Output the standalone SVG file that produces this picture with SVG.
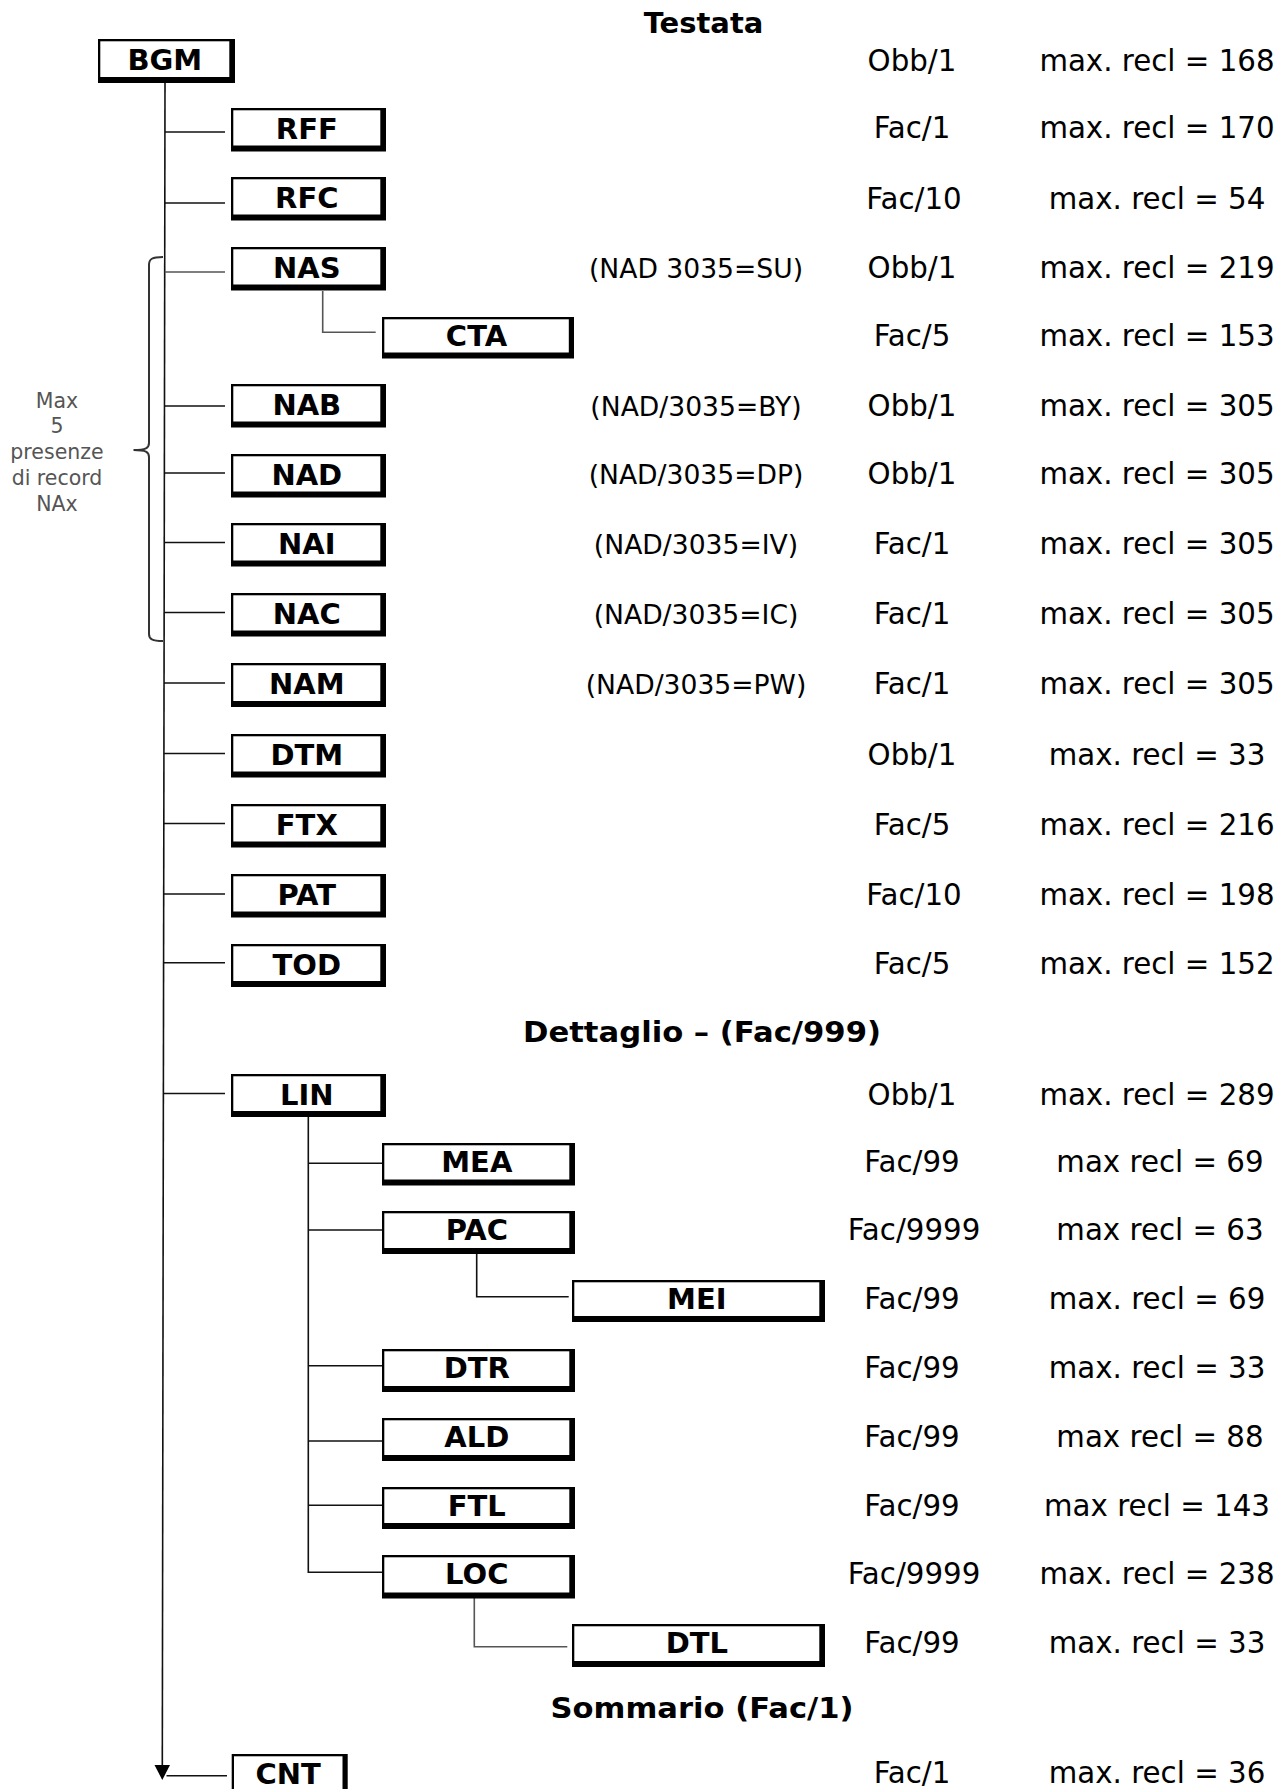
<svg xmlns="http://www.w3.org/2000/svg" width="1286" height="1789" viewBox="0 0 1286 1789">
<defs>
<style>
.bo{fill:#000}
.bi{fill:#fff}
.bl{font-family:"DejaVu Sans",Verdana,sans-serif;font-weight:bold;font-size:29px;fill:#000;text-anchor:middle}
.hd{font-family:"DejaVu Sans",Verdana,sans-serif;font-weight:bold;font-size:29px;fill:#000;text-anchor:middle}
.tx{font-family:"DejaVu Sans",Verdana,sans-serif;font-size:29.3px;fill:#000;text-anchor:middle}
.md{font-family:"DejaVu Sans",Verdana,sans-serif;font-size:26.6px;fill:#000;text-anchor:middle}
.nt{font-family:"DejaVu Sans",Verdana,sans-serif;font-size:20.5px;fill:#555;text-anchor:middle}
.ln{stroke:#111;stroke-width:1.6;fill:none}
.lg{stroke:#555;stroke-width:1.6;fill:none}
</style>
</defs>
<rect width="1286" height="1789" fill="#fff"/>

<g id="connectors">
<path class="ln" d="M165,83 L162.3,1766"/>
<path d="M154.5,1765 L170,1765 L162.3,1780 Z" fill="#000"/>
<path class="ln" d="M165,132 H225"/>
<path class="ln" d="M165,203 H225"/>
<path class="lg" d="M164.8,272 H225"/>
<path class="ln" d="M164.5,406 H225"/>
<path class="ln" d="M164.4,473 H225"/>
<path class="ln" d="M164.3,542.5 H225"/>
<path class="ln" d="M164.2,612.5 H225"/>
<path class="ln" d="M164,683 H225"/>
<path class="ln" d="M163.9,753.5 H225"/>
<path class="ln" d="M163.8,823.5 H225"/>
<path class="ln" d="M163.7,894 H225"/>
<path class="ln" d="M163.6,962.7 H225"/>
<path class="ln" d="M163.3,1093.5 H225"/>
<path class="ln" d="M166.5,1775.7 H227"/>
<path class="lg" d="M322.7,291 V332.3 H375.7"/>
<path class="ln" d="M308.3,1117 V1572.3 H382"/>
<path class="ln" d="M308.3,1163.3 H382"/>
<path class="ln" d="M308.3,1230 H382"/>
<path class="ln" d="M308.3,1365.7 H382"/>
<path class="ln" d="M308.3,1441 H382"/>
<path class="ln" d="M308.3,1505.3 H382"/>
<path class="ln" d="M476.7,1254 V1296.7 H568.7"/>
<path class="lg" d="M474.3,1598 V1646.7 H567.3"/>
<path d="M163,257 C152,257 149,259 149,265 V443 C149,448 146,450 133.5,450 C146,450 149,452 149,457 V634 C149,639 152,641 163,641" stroke="#333" stroke-width="2" fill="none"/>
</g>

<g id="note">
<text class="nt" x="57" y="407.7">Max</text>
<text class="nt" x="57" y="433.3">5</text>
<text class="nt" x="57" y="458.5">presenze</text>
<text class="nt" x="57" y="485">di record</text>
<text class="nt" x="57" y="511">NAx</text>
</g>

<g id="headers">
<text class="hd" x="703.5" y="33">Testata</text>
<text class="hd" x="702" y="1041.7" textLength="358" lengthAdjust="spacingAndGlyphs">Dettaglio – (Fac/999)</text>
<text class="hd" x="702" y="1718" textLength="303" lengthAdjust="spacingAndGlyphs">Sommario (Fac/1)</text>
</g>

<g id="node-BGM"><rect class="bo" x="98" y="39" width="137" height="44"/><rect class="bi" x="100.3" y="41.3" width="129" height="35.7"/><text class="bl" x="164.8" y="70">BGM</text>
<text class="tx" x="912" y="70.7">Obb/1</text><text class="tx" x="1157" y="70.7">max. recl = 168</text></g>

<g id="node-RFF"><rect class="bo" x="231" y="108" width="155" height="43.5"/><rect class="bi" x="233.3" y="110.3" width="147" height="35.2"/><text class="bl" x="306.8" y="139">RFF</text>
<text class="tx" x="912" y="138.3">Fac/1</text><text class="tx" x="1157" y="138.3">max. recl = 170</text></g>

<g id="node-RFC"><rect class="bo" x="231" y="177" width="155" height="43.5"/><rect class="bi" x="233.3" y="179.3" width="147" height="35.2"/><text class="bl" x="306.8" y="208">RFC</text>
<text class="tx" x="914" y="209">Fac/10</text><text class="tx" x="1157" y="209">max. recl = 54</text></g>

<g id="node-NAS"><rect class="bo" x="231" y="247" width="155" height="43.5"/><rect class="bi" x="233.3" y="249.3" width="147" height="35.2"/><text class="bl" x="306.8" y="278">NAS</text>
<text class="md" x="696" y="278">(NAD 3035=SU)</text><text class="tx" x="912" y="278">Obb/1</text><text class="tx" x="1157" y="278">max. recl = 219</text></g>

<g id="node-CTA"><rect class="bo" x="382" y="317" width="192" height="41.5"/><rect class="bi" x="384.3" y="319.3" width="184.5" height="33.2"/><text class="bl" x="476.5" y="346">CTA</text>
<text class="tx" x="912" y="345.7">Fac/5</text><text class="tx" x="1157" y="345.7">max. recl = 153</text></g>

<g id="node-NAB"><rect class="bo" x="231" y="384" width="155" height="43.5"/><rect class="bi" x="233.3" y="386.3" width="147" height="35.2"/><text class="bl" x="306.8" y="415">NAB</text>
<text class="md" x="696" y="416">(NAD/3035=BY)</text><text class="tx" x="912" y="416">Obb/1</text><text class="tx" x="1157" y="416">max. recl = 305</text></g>

<g id="node-NAD"><rect class="bo" x="231" y="454" width="155" height="43.5"/><rect class="bi" x="233.3" y="456.3" width="147" height="35.2"/><text class="bl" x="306.8" y="485">NAD</text>
<text class="md" x="696" y="484">(NAD/3035=DP)</text><text class="tx" x="912" y="484">Obb/1</text><text class="tx" x="1157" y="484">max. recl = 305</text></g>

<g id="node-NAI"><rect class="bo" x="231" y="523" width="155" height="43.5"/><rect class="bi" x="233.3" y="525.3" width="147" height="35.2"/><text class="bl" x="306.8" y="554">NAI</text>
<text class="md" x="696" y="554">(NAD/3035=IV)</text><text class="tx" x="912" y="554">Fac/1</text><text class="tx" x="1157" y="554">max. recl = 305</text></g>

<g id="node-NAC"><rect class="bo" x="231" y="593" width="155" height="43.5"/><rect class="bi" x="233.3" y="595.3" width="147" height="35.2"/><text class="bl" x="306.8" y="624">NAC</text>
<text class="md" x="696" y="624">(NAD/3035=IC)</text><text class="tx" x="912" y="624">Fac/1</text><text class="tx" x="1157" y="624">max. recl = 305</text></g>

<g id="node-NAM"><rect class="bo" x="231" y="663" width="155" height="44"/><rect class="bi" x="233.3" y="665.3" width="147" height="35.7"/><text class="bl" x="306.8" y="694">NAM</text>
<text class="md" x="696" y="694">(NAD/3035=PW)</text><text class="tx" x="912" y="694">Fac/1</text><text class="tx" x="1157" y="694">max. recl = 305</text></g>

<g id="node-DTM"><rect class="bo" x="231" y="734" width="155" height="43.5"/><rect class="bi" x="233.3" y="736.3" width="147" height="35.2"/><text class="bl" x="306.8" y="765">DTM</text>
<text class="tx" x="912" y="765">Obb/1</text><text class="tx" x="1157" y="765">max. recl = 33</text></g>

<g id="node-FTX"><rect class="bo" x="231" y="804" width="155" height="43.5"/><rect class="bi" x="233.3" y="806.3" width="147" height="35.2"/><text class="bl" x="306.8" y="835">FTX</text>
<text class="tx" x="912" y="835">Fac/5</text><text class="tx" x="1157" y="835">max. recl = 216</text></g>

<g id="node-PAT"><rect class="bo" x="231" y="874" width="155" height="43.5"/><rect class="bi" x="233.3" y="876.3" width="147" height="35.2"/><text class="bl" x="306.8" y="905">PAT</text>
<text class="tx" x="914" y="905">Fac/10</text><text class="tx" x="1157" y="905">max. recl = 198</text></g>

<g id="node-TOD"><rect class="bo" x="231" y="944" width="155" height="43"/><rect class="bi" x="233.3" y="946.3" width="147" height="34.7"/><text class="bl" x="306.8" y="975">TOD</text>
<text class="tx" x="912" y="974">Fac/5</text><text class="tx" x="1157" y="974">max. recl = 152</text></g>

<g id="node-LIN"><rect class="bo" x="231" y="1074" width="155" height="43"/><rect class="bi" x="233.3" y="1076.3" width="147" height="34.7"/><text class="bl" x="306.8" y="1105">LIN</text>
<text class="tx" x="912" y="1105">Obb/1</text><text class="tx" x="1157" y="1105">max. recl = 289</text></g>

<g id="node-MEA"><rect class="bo" x="382" y="1143" width="193" height="42.5"/><rect class="bi" x="384.3" y="1145.3" width="185" height="34.2"/><text class="bl" x="476.8" y="1172">MEA</text>
<text class="tx" x="912" y="1172">Fac/99</text><text class="tx" x="1160" y="1172">max recl = 69</text></g>

<g id="node-PAC"><rect class="bo" x="382" y="1211" width="193" height="43"/><rect class="bi" x="384.3" y="1213.3" width="185" height="34.7"/><text class="bl" x="476.8" y="1240">PAC</text>
<text class="tx" x="914" y="1240">Fac/9999</text><text class="tx" x="1160" y="1240">max recl = 63</text></g>

<g id="node-MEI"><rect class="bo" x="572" y="1280" width="253" height="42"/><rect class="bi" x="574.3" y="1282.3" width="245" height="33.7"/><text class="bl" x="696.8" y="1309">MEI</text>
<text class="tx" x="912" y="1309">Fac/99</text><text class="tx" x="1157" y="1309">max. recl = 69</text></g>

<g id="node-DTR"><rect class="bo" x="382" y="1349" width="193" height="43"/><rect class="bi" x="384.3" y="1351.3" width="185" height="34.7"/><text class="bl" x="476.8" y="1378">DTR</text>
<text class="tx" x="912" y="1378">Fac/99</text><text class="tx" x="1157" y="1378">max. recl = 33</text></g>

<g id="node-ALD"><rect class="bo" x="382" y="1418" width="193" height="43"/><rect class="bi" x="384.3" y="1420.3" width="185" height="34.7"/><text class="bl" x="476.8" y="1447">ALD</text>
<text class="tx" x="912" y="1447">Fac/99</text><text class="tx" x="1160" y="1447">max recl = 88</text></g>

<g id="node-FTL"><rect class="bo" x="382" y="1487" width="193" height="42"/><rect class="bi" x="384.3" y="1489.3" width="185" height="33.7"/><text class="bl" x="476.8" y="1516">FTL</text>
<text class="tx" x="912" y="1516">Fac/99</text><text class="tx" x="1157" y="1516">max recl = 143</text></g>

<g id="node-LOC"><rect class="bo" x="382" y="1555" width="193" height="43.5"/><rect class="bi" x="384.3" y="1557.3" width="185" height="35.2"/><text class="bl" x="476.8" y="1584">LOC</text>
<text class="tx" x="914" y="1584">Fac/9999</text><text class="tx" x="1157" y="1584">max. recl = 238</text></g>

<g id="node-DTL"><rect class="bo" x="572" y="1624" width="253" height="43"/><rect class="bi" x="574.3" y="1626.3" width="245" height="34.7"/><text class="bl" x="696.8" y="1653">DTL</text>
<text class="tx" x="912" y="1653">Fac/99</text><text class="tx" x="1157" y="1653">max. recl = 33</text></g>

<g id="node-CNT"><rect class="bo" x="231.7" y="1754" width="116" height="44"/><rect class="bi" x="234" y="1756.3" width="108.5" height="40"/><text class="bl" x="288.2" y="1783.5">CNT</text>
<text class="tx" x="912" y="1783.3">Fac/1</text><text class="tx" x="1157" y="1783.3">max. recl = 36</text></g>
</svg>
